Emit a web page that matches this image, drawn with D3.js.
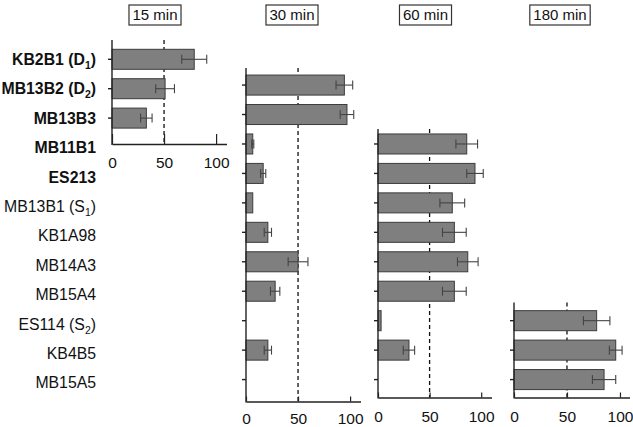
<!DOCTYPE html>
<html><head><meta charset="utf-8">
<script src="https://cdn.jsdelivr.net/npm/d3@7"></script>
<style>
html,body{margin:0;padding:0;background:#fff;}
svg{display:block;font-family:"Liberation Sans",Arial,sans-serif;}
</style></head>
<body><svg id="c" width="633" height="427"></svg>
<script>
// ---- data ----
const strains = ["KB2B1","MB13B2","MB13B3","MB11B1","ES213","MB13B1","KB1A98","MB14A3","MB15A4","ES114","KB4B5","MB15A5"];
const labelMain = ["KB2B1 (D","MB13B2 (D","MB13B3","MB11B1","ES213","MB13B1 (S","KB1A98","MB14A3","MB15A4","ES114 (S","KB4B5","MB15A5"];
const labelSub  = ["1","2","","","","1","","","","2","",""];
const boldStrains = ["KB2B1","MB13B2","MB13B3","MB11B1","ES213"];
const timepoints = ["15 min","30 min","60 min","180 min"];
const xTicks = [0,50,100];
const threshold = 50;

const strains15 = ["KB2B1","MB13B2","MB13B3"];
const values15 = [79,51,33];
const errors15 = [12,9,5.5];

const strains30 = ["MB13B2","MB13B3","MB11B1","ES213","MB13B1","KB1A98","MB14A3","MB15A4","ES114","KB4B5","MB15A5"];
const values30 = [94.5,97,6.5,16.5,6.5,21,50,28,0,21,0];
const errors30 = [8,6.5,1,2.5,0,3.5,9.5,4.5,0,3.5,0];

const strains60 = ["MB11B1","ES213","MB13B1","KB1A98","MB14A3","MB15A4","ES114","KB4B5","MB15A5"];
const values60 = [86,94,72,74,87,74,3,30,0];
const errors60 = [10.5,8,12,11.5,10,11.5,0,5.5,0];

const strains180 = ["ES114","KB4B5","MB15A5"];
const values180 = [78,96,85];
const errors180 = [12.5,6,11];

// ---- layout ----
const svg = d3.select("#c");
const FS = 15, LFS = 15.8;
const yLab = d3.scaleBand().domain(strains).range([44.6, 44.6+12*29.4]).paddingInner(0.32).paddingOuter(0.16);
const yPan = d3.scaleBand().domain(strains).range([40.9, 40.9+12*29.45]).paddingInner(0.32).paddingOuter(0.16);

const panels = [
  {title:timepoints[0], s:strains15, v:values15, e:errors15, x0:112, x1:226.5, xmax:110, top:40, bottom:144, y:yLab, hx:155, tick:10, lab:12.5},
  {title:timepoints[1], s:strains30, v:values30, e:errors30, x0:246, x1:360.5, xmax:110, top:68, bottom:401.5, y:yPan, hx:292, tick:5, lab:11},
  {title:timepoints[2], s:strains60, v:values60, e:errors60, x0:378, x1:491.5, xmax:110, top:129, bottom:397.5, y:yPan, hx:425.5, tick:5, lab:13},
  {title:timepoints[3], s:strains180, v:values180, e:errors180, x0:514, x1:629.5, xmax:109, top:302.5, bottom:397.5, y:yPan, hx:560, tick:5, lab:13}
];

// row labels
const lab = svg.append("g");
strains.forEach((s,i)=>{
  const t = lab.append("text")
    .attr("x",96).attr("y",yLab(s)+yLab.bandwidth()/2).attr("dy","0.36em")
    .attr("text-anchor","end").attr("font-size",LFS).attr("fill","#111")
    .attr("font-weight", boldStrains.includes(s)?"bold":"normal");
  t.append("tspan").text(labelMain[i]);
  if(labelSub[i]){
    t.append("tspan").attr("font-size",10.5).attr("dy",4).text(labelSub[i]);
    t.append("tspan").attr("dy",-4).text(")");
  }
});

panels.forEach(p=>{
  const g = svg.append("g");
  const x = d3.scaleLinear().domain([0,p.xmax]).range([p.x0,p.x1]);
  const y = p.y;
  const bw = y.bandwidth();
  const data = p.s.map((s,i)=>({s, v:p.v[i], e:p.e[i]}));

  // dashed threshold line
  g.append("line").attr("x1",x(threshold)).attr("x2",x(threshold))
    .attr("y1",p.top).attr("y2",p.bottom)
    .attr("stroke","#111").attr("stroke-width",1.3).attr("stroke-dasharray","4,3");

  // bars
  g.selectAll("rect.bar").data(data.filter(d=>d.v>0)).join("rect")
    .attr("class","bar")
    .attr("x",x(0)).attr("y",d=>y(d.s))
    .attr("width",d=>x(d.v)-x(0)).attr("height",bw)
    .attr("fill","#7f7f7f").attr("stroke","#3c3c3c").attr("stroke-width",1);

  // error bars
  const eb = g.selectAll("g.err").data(data.filter(d=>d.e>0)).join("g").attr("class","err")
    .attr("stroke","#444").attr("stroke-width",1.1);
  eb.append("line").attr("x1",d=>x(d.v-d.e)).attr("x2",d=>x(d.v+d.e))
    .attr("y1",d=>y(d.s)+bw/2).attr("y2",d=>y(d.s)+bw/2);
  eb.append("line").attr("x1",d=>x(d.v-d.e)).attr("x2",d=>x(d.v-d.e))
    .attr("y1",d=>y(d.s)+bw/2-4.5).attr("y2",d=>y(d.s)+bw/2+4.5);
  eb.append("line").attr("x1",d=>x(d.v+d.e)).attr("x2",d=>x(d.v+d.e))
    .attr("y1",d=>y(d.s)+bw/2-4.5).attr("y2",d=>y(d.s)+bw/2+4.5);

  // x axis
  const ax = d3.axisBottom(x).tickValues(xTicks).tickSizeInner(-p.tick).tickSizeOuter(0).tickPadding(p.lab);
  const axg = g.append("g").attr("transform",`translate(0,${p.bottom})`).call(ax);
  axg.select(".domain").attr("stroke","#222").attr("stroke-width",1.4);
  axg.selectAll(".tick line").attr("stroke","#222").attr("stroke-width",1.2);
  axg.selectAll(".tick text").attr("font-size",FS+0.5).attr("fill","#111")
    .attr("font-family","'Liberation Sans',Arial,sans-serif");

  // y axis line
  g.append("line").attr("x1",x(0)).attr("x2",x(0)).attr("y1",p.top).attr("y2",p.bottom+1)
    .attr("stroke","#222").attr("stroke-width",1.4);
  // y ticks
  g.selectAll("line.yt").data(data).join("line").attr("class","yt")
    .attr("x1",x(0)-4).attr("x2",x(0))
    .attr("y1",d=>y(d.s)+bw/2).attr("y2",d=>y(d.s)+bw/2)
    .attr("stroke","#222").attr("stroke-width",1.4);

  // header box
  const hg = svg.append("g");
  const hr = hg.append("rect");
  const ht = hg.append("text").attr("x",p.hx).attr("y",15).attr("dy","0.36em")
    .attr("text-anchor","middle").attr("font-size",FS).attr("fill","#111").text(p.title);
  const bb = ht.node().getBBox();
  hr.attr("x",bb.x-3.5).attr("y",5).attr("width",bb.width+7).attr("height",20)
    .attr("fill","#fff").attr("stroke","#333").attr("stroke-width",1.2);
});
</script>
</body></html>
